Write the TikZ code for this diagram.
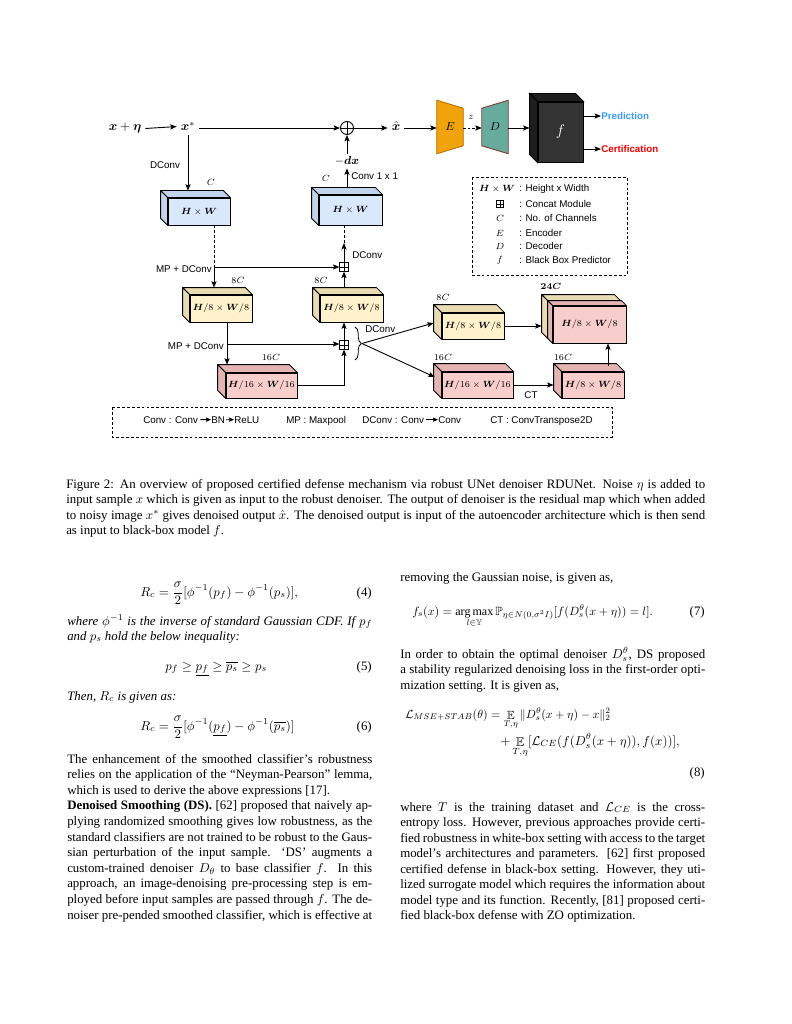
\documentclass[tikz,border=0pt]{standalone}
\usepackage{amsmath,amssymb,bm,graphicx}
\usepackage{fontspec}
\setmainfont{Liberation Serif}
\newfontfamily\diagfont{Liberation Sans}
\usetikzlibrary{arrows.meta,decorations.pathreplacing,calc}
\newdimen\unitpx \unitpx=0.773704bp
\definecolor{bfront}{HTML}{DAE8FC}
\definecolor{bside}{HTML}{C3D3EC}
\definecolor{yfront}{HTML}{FFF2CC}
\definecolor{yside}{HTML}{E9DCB3}
\definecolor{pfront}{HTML}{F8CECC}
\definecolor{pside}{HTML}{E3B4B2}
\definecolor{eorange}{HTML}{F0A30A}
\definecolor{eedge}{HTML}{BD7000}
\definecolor{dteal}{HTML}{67AB9F}
\definecolor{dedge}{HTML}{7B3F2E}
\definecolor{ffront}{HTML}{333333}
\definecolor{fside}{HTML}{1E1E1E}
\definecolor{predblue}{HTML}{3D9BF5}
\definecolor{certred}{HTML}{F00000}
\newcommand\jl[1]{\hbox to 305\unitpx{#1}}
\newcommand\cjl[1]{\hbox to 639\unitpx{#1}}
\newcommand\cubebox[9]{%
  \node[draw, line width=0.65pt, fill=#7, minimum width=#4*\unitpx, minimum height=#5*\unitpx, inner sep=0, font=\fontsize{7}{9}\selectfont] (#1) at (#2,#3) {#9};
  \draw[line width=0.65pt, fill=#8, line join=round] (#1.north west) -- ++(-#6,-#6) -- ([shift={(-#6,-#6)}]#1.north east) -- (#1.north east) -- cycle;
  \draw[line width=0.65pt, fill=#8, line join=round] (#1.north west) -- ++(-#6,-#6) -- ([shift={(-#6,-#6)}]#1.south west) -- (#1.south west) -- cycle;
}
\begin{document}
\begin{tikzpicture}[x=\unitpx, y=-\unitpx,
  txt/.style={anchor=base west, inner sep=0, font=\fontsize{10}{12}\selectfont},
  txtr/.style={anchor=base east, inner sep=0, font=\fontsize{10}{12}\selectfont},
  lab/.style={inner sep=0, font=\diagfont\fontsize{7.6}{9}\selectfont},
  mlab/.style={inner sep=0, font=\fontsize{7.5}{9}\selectfont},
  mathbig/.style={inner sep=3pt, font=\fontsize{10}{12}\selectfont},
  arr/.style={line width=0.7pt, -{Stealth[length=5pt,width=4pt,inset=1pt]}},
  sarr/.style={line width=0.6pt, -{Stealth[length=4pt,width=3.4pt,inset=0.8pt]}},
  ln/.style={line width=0.7pt},
  dsh/.style={line width=0.7pt, dash pattern=on 2.2pt off 1.6pt},
  crosspic/.style={path picture={\draw[line width=0.5pt] (path picture bounding box.north) -- (path picture bounding box.south) (path picture bounding box.west) -- (path picture bounding box.east);}},
  cat/.style={draw, line width=0.6pt, fill=white, minimum size=8.5*\unitpx, inner sep=0, crosspic},
  oplusnode/.style={draw, circle, line width=0.7pt, fill=white, minimum size=13*\unitpx, inner sep=0, crosspic},
]
\fill[white] (0,0) rectangle (791,1024);
\useasboundingbox (0,0) rectangle (791,1024);

% ---------------- top row ----------------
\node[mathbig, anchor=base] (xin) at (125,131) {$\bm{x}+\bm{\eta}$};
\node[mathbig, anchor=base] (xstar) at (188,131) {$\bm{x}^{*}$};
\node[oplusnode] (oplus) at (347,128) {};
\node[mathbig, anchor=base] (xhat) at (396,131) {$\hat{\bm{x}}$};
\draw[arr] (xin.east) -- (xstar.west);
\draw[arr] (xstar.east |- oplus) -- (oplus.west);
\draw[arr] (oplus.east) -- (xhat.west |- oplus);

% encoder / decoder
\node[inner sep=0, minimum width=26*\unitpx, minimum height=53*\unitpx] (E) at (450,127) {};
\draw[line width=0.7pt, draw=eedge, fill=eorange] (E.north west) -- (E.south west) -- ([shift={(0,-8)}]E.south east) -- ([shift={(0,8)}]E.north east) -- cycle;
\node[font=\fontsize{9}{10}\selectfont] at (E) {$E$};
\node[inner sep=0, minimum width=26*\unitpx, minimum height=53*\unitpx] (D) at (495,127) {};
\draw[line width=0.7pt, draw=dedge, fill=dteal] ([shift={(0,8)}]D.north west) -- ([shift={(0,-8)}]D.south west) -- (D.south east) -- (D.north east) -- cycle;
\node[font=\fontsize{9}{10}\selectfont] at (D) {$D$};
\draw[arr] (xhat.east |- oplus) -- (E.west |- oplus);
\draw[arr, dash pattern=on 2pt off 1.5pt] (E.east |- oplus) -- (D.west |- oplus);
\node[font=\fontsize{7}{8}\selectfont, inner sep=0] (zl) at (471,118) {$z$};

% black box f
\node[draw=black, line width=0.7pt, fill=ffront, minimum width=45*\unitpx, minimum height=60*\unitpx, inner sep=0] (f) at (560.5,132) {};
\draw[line width=0.7pt, fill=fside] (f.north west) -- ++(-8,-8) -- ([shift={(-8,-8)}]f.north east) -- (f.north east) -- cycle;
\draw[line width=0.7pt, fill=fside] (f.north west) -- ++(-8,-8) -- ([shift={(-8,-8)}]f.south west) -- (f.south west) -- cycle;
\node[text=white, font=\fontsize{12}{14}\selectfont] at (f) {$f$};
\draw[arr] (D.east |- oplus) -- ([shift={(-8,0)}]f.west |- oplus);
\node[lab, anchor=west, text=predblue, font=\diagfont\bfseries\fontsize{7.6}{9}\selectfont] (pred) at (601,116) {Prediction};
\node[lab, anchor=west, text=certred, font=\diagfont\bfseries\fontsize{7.6}{9}\selectfont] (cert) at (601,149) {Certification};
\draw[arr] (pred.west -| f.east) -- (pred.west);
\draw[arr] (cert.west -| f.east) -- (cert.west);

% legend box (top right)
\draw[dsh, line width=0.6pt] (472,177) rectangle (627,275);
\node[mlab] (g1) at (497,189) {$\bm{H}\times\bm{W}$};
\node[cat, minimum size=7*\unitpx] (g2) at (500,204) {};
\node[mlab] (g3) at (500,218) {$C$};
\node[mlab] (g4) at (500,233) {$E$};
\node[mlab] (g5) at (500,246) {$D$};
\node[mlab] (g6) at (500,260) {$f$};
\node[lab, anchor=west] at (519,189) {: Height x Width};
\node[lab, anchor=west] at (519,204) {: Concat Module};
\node[lab, anchor=west] at (519,218) {: No. of Channels};
\node[lab, anchor=west] at (519,233) {: Encoder};
\node[lab, anchor=west] at (519,246) {: Decoder};
\node[lab, anchor=west] at (519,260) {: Black Box Predictor};

% ---------------- UNet boxes ----------------
\cubebox{b1}{199}{211.5}{62}{27}{7}{bfront}{bside}{$\bm{H}\times\bm{W}$}
\cubebox{b2}{350.5}{210}{63}{30}{7}{bfront}{bside}{$\bm{H}\times\bm{W}$}
\cubebox{b3}{221}{308.5}{62}{27}{7}{yfront}{yside}{$\bm{H}/8\times\bm{W}/8$}
\cubebox{b4}{351.5}{308.5}{63}{27}{7}{yfront}{yside}{$\bm{H}/8\times\bm{W}/8$}
\cubebox{b5}{261.5}{385.5}{71}{25}{8}{pfront}{pside}{$\bm{H}/16\times\bm{W}/16$}
\cubebox{b6}{473}{326}{62}{26}{8}{yfront}{yside}{$\bm{H}/8\times\bm{W}/8$}
\cubebox{b7}{477.5}{385}{71}{26}{8}{pfront}{pside}{$\bm{H}/16\times\bm{W}/16$}
\cubebox{b8y}{584}{319.5}{72}{37}{6}{yfront}{yside}{}
\cubebox{b8p}{589.5}{324.5}{73}{37}{5}{pfront}{pside}{$\bm{H}/8\times\bm{W}/8$}
\cubebox{b9}{593}{385}{62}{26}{8}{pfront}{pside}{$\bm{H}/8\times\bm{W}/8$}

% channel labels
\node[mlab] at (211,182) {$C$};
\node[mlab] at (326,178) {$C$};
\node[mlab] at (238,280) {$8C$};
\node[mlab] at (321,280) {$8C$};
\node[mlab] at (271,357) {$16C$};
\node[mlab] at (443,297) {$8C$};
\node[mlab] at (443,357) {$16C$};
\node[mlab] at (551,286) {$\bm{24C}$};
\node[mlab] at (563,357) {$16C$};

% concat nodes
\node[cat] (cat1) at (344,267) {};
\node[cat] (cat2) at (344,345) {};

% -dx
\node[inner sep=2pt, font=\fontsize{9}{10}\selectfont] (dx) at (347,161) {$-\bm{dx}$};

% connectors: encoder path
\coordinate (b1t) at ([shift={(0,-7)}]b1.north);
\draw[arr] (xstar.south) -- (xstar.south |- b1t);
\node[lab] at (165,165) {DConv};
\coordinate (j1) at (214,267);
\draw[dsh] (j1 |- b1.south) -- (j1);
\draw[arr] (j1) -- (cat1.west);
\coordinate (b3t) at ([shift={(0,-7)}]b3.north);
\draw[arr] (j1) -- (j1 |- b3t);
\node[lab, anchor=east] at (212,269) {MP + DConv};

\coordinate (j2) at (227,344);
\draw[ln] (j2 |- b3.south) -- (j2);
\draw[arr] (j2) -- (j2 -| cat2.west);
\coordinate (b5t) at ([shift={(0,-8)}]b5.north);
\draw[arr] (j2) -- (j2 |- b5t);
\node[lab, anchor=east] at (224,346) {MP + DConv};

\draw[arr] (b5.east) -| (cat2.south);
\draw[arr] (cat2.north) -- (cat2.north |- b4.south);
\coordinate (b4t) at ([shift={(0,-7)}]b4.north);
\draw[arr] (b4t -| cat1) -- (cat1.south);
\coordinate (a1) at (344,243);
\draw[arr] (cat1.north) -- (a1);
\draw[dsh] (a1) -- (a1 |- b2.south);
\node[lab, anchor=west] at (352,255) {DConv};
\coordinate (b2t) at ([shift={(0,-7)}]b2.north);
\draw[arr] (b2t -| dx) -- (dx.south);
\node[lab, anchor=west] at (351,176) {Conv 1 x 1};
\draw[arr] (dx.north) -- (oplus.south);

% brace and branch
\draw[line width=0.6pt, decorate, decoration={brace, amplitude=5pt}] (355,327) -- (355,360);
\coordinate (bt) at (362,343.5);
\node[lab, anchor=west] at (365,329) {DConv};
\draw[arr] (bt) -- ([shift={(-8,-3)}]b6.west);
\draw[arr] (bt) -- ([shift={(-7,-8)}]b7.west);
\coordinate (b8l) at ([shift={(-6,0)}]b8y.west);
\draw[arr] (b6.east) -- (b6.east -| b8l);
\coordinate (b9l) at ([shift={(-8,0)}]b9.west);
\draw[arr] (b7.east) -- (b7.east -| b9l);
\node[lab] at (531,395) {CT};
\coordinate (u9) at (608,366);
\draw[arr] (u9) -- (u9 |- b8p.south);

% bottom legend
\draw[dsh, line width=0.6pt] (112,407) rectangle (612,437);
\node[lab, anchor=base west] (k1) at (143,423) {Conv : Conv};
\node[lab, anchor=base west] (k2) at (211,423) {BN};
\node[lab, anchor=base west] (k3) at (234,423) {ReLU};
\node[lab, anchor=base west] (k4) at (286,423) {MP : Maxpool};
\node[lab, anchor=base west] (k5) at (362,423) {DConv : Conv};
\node[lab, anchor=base west] (k6) at (438,423) {Conv};
\node[lab, anchor=base west] (k7) at (490,423) {CT : ConvTranspose2D};
\draw[sarr] ([shift={(2,0)}]k1.east) -- (k2.west);
\draw[sarr] ([shift={(1,0)}]k2.east) -- (k3.west);
\draw[sarr] ([shift={(2,0)}]k5.east) -- (k6.west);

% ---------------- caption ----------------
\node[txt] at (66,488) {\cjl{Figure 2: An overview of proposed certified defense mechanism via robust UNet denoiser RDUNet. Noise $\eta$ is added to}};
\node[txt] at (66,503.5) {\cjl{input sample $x$ which is given as input to the robust denoiser. The output of denoiser is the residual map which when added}};
\node[txt] at (66,519) {\cjl{to noisy image $x^{*}$ gives denoised output $\hat{x}$. The denoised output is input of the autoencoder architecture which is then send}};
\node[txt] at (66,534.5) {as input to black-box model $f$.};

% ---------------- left column ----------------
\node[txt] at (140,596) {$\displaystyle R_c = \frac{\sigma}{2}[\phi^{-1}(p_f) - \phi^{-1}(p_s)],$};
\node[txtr] at (372,596) {(4)};
\node[txt] at (67,625) {\jl{\itshape where $\phi^{-1}$ is the inverse of standard Gaussian CDF. If $p_f$}};
\node[txt] at (67,640) {\itshape and $p_s$ hold the below inequality:};
\node[txt] at (165,670) {$p_f \geq \underline{p_f} \geq \overline{p_s} \geq p_s$};
\node[txtr] at (372,670) {(5)};
\node[txt] at (67,700) {\itshape Then, $R_c$ is given as:};
\node[txt] at (140,730) {$\displaystyle R_c = \frac{\sigma}{2}[\phi^{-1}(\underline{p_f}) - \phi^{-1}(\overline{p_s})]$};
\node[txtr] at (372,730) {(6)};
\node[txt] at (67,763) {\jl{The enhancement of the smoothed classifier’s robustness}};
\node[txt] at (67,778.6) {\jl{relies on the application of the “Neyman-Pearson” lemma,}};
\node[txt] at (67,794.2) {which is used to derive the above expressions [17].};
\node[txt] at (67,809.8) {\jl{\textbf{Denoised Smoothing (DS).} [62] proposed that naively ap-}};
\node[txt] at (67,825.4) {\jl{plying randomized smoothing gives low robustness, as the}};
\node[txt] at (67,841) {\jl{standard classifiers are not trained to be robust to the Gaus-}};
\node[txt] at (67,856.6) {\jl{sian perturbation of the input sample.\ \ ‘DS’ augments a}};
\node[txt] at (67,872.2) {\jl{custom-trained denoiser $D_\theta$ to base classifier $f$.\ \ In this}};
\node[txt] at (67,887.8) {\jl{approach, an image-denoising pre-processing step is em-}};
\node[txt] at (67,903.4) {\jl{ployed before input samples are passed through $f$. The de-}};
\node[txt] at (67,919) {\jl{noiser pre-pended smoothed classifier, which is effective at}};

% ---------------- right column ----------------
\node[txt] at (400,581) {removing the Gaussian noise, is given as,};
\node[txt] at (412,615) {\scalebox{0.93}{$\displaystyle f_s(x) = \operatorname*{arg\,max}_{l\in\mathbb{Y}} \mathbb{P}_{\eta\in N(0,\sigma^2 I)}[f(D_s^\theta(x+\eta)) = l].$}};
\node[txtr] at (705,615) {(7)};
\node[txt] at (400,658) {\jl{In order to obtain the optimal denoiser $D_s^\theta$, DS proposed}};
\node[txt] at (400,673.5) {\jl{a stability regularized denoising loss in the first-order opti-}};
\node[txt] at (400,689) {mization setting. It is given as,};
\node[txt] at (405,718) {\scalebox{0.92}{$\displaystyle \mathcal{L}_{MSE+STAB}(\theta) = \mathop{\mathbb{E}}_{T,\eta}\|D_s^\theta(x+\eta)-x\|_2^2$}};
\node[txt] at (500,745) {$\displaystyle +\mathop{\mathbb{E}}_{T,\eta}[\mathcal{L}_{CE}(f(D_s^\theta(x+\eta)), f(x))],$};
\node[txtr] at (705,776) {(8)};
\node[txt] at (400,811) {\jl{where $T$ is the training dataset and $\mathcal{L}_{CE}$ is the cross-}};
\node[txt] at (400,826.5) {\jl{entropy loss. However, previous approaches provide certi-}};
\node[txt] at (400,842) {\jl{fied robustness in white-box setting with access to the target}};
\node[txt] at (400,857.5) {\jl{model’s architectures and parameters. [62] first proposed}};
\node[txt] at (400,873) {\jl{certified defense in black-box setting. However, they uti-}};
\node[txt] at (400,888.5) {\jl{lized surrogate model which requires the information about}};
\node[txt] at (400,904) {\jl{model type and its function. Recently, [81] proposed certi-}};
\node[txt] at (400,919.5) {fied black-box defense with ZO optimization.};
\end{tikzpicture}
\end{document}
